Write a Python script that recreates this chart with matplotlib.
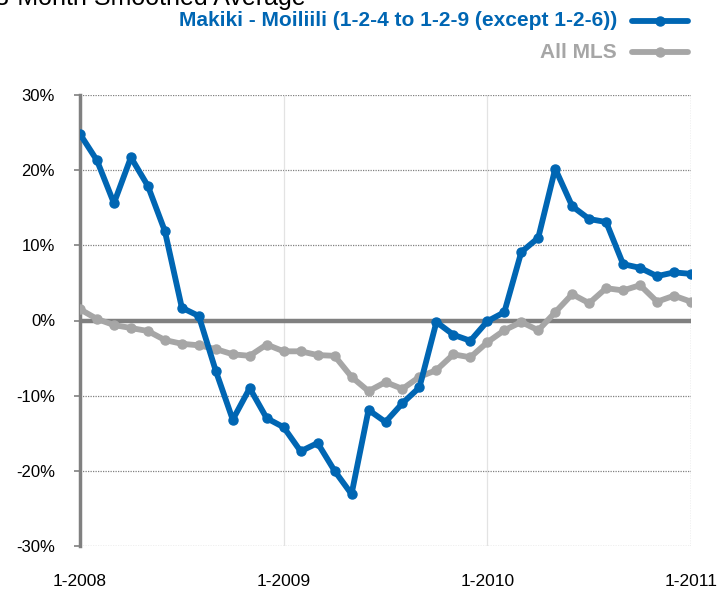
import matplotlib
matplotlib.use("Agg")
import matplotlib.pyplot as plt
from matplotlib.lines import Line2D

plt.rcParams['font.family'] = ['Liberation Sans', 'DejaVu Sans']

months = list(range(37))
makiki = [24.8, 21.3, 15.6, 21.7, 17.9, 11.9, 1.7, 0.6, -6.7, -13.2, -9.0, -13.0,
          -14.2, -17.4, -16.3, -20.0, -23.1, -11.9, -13.5, -11.0, -8.9, -0.2, -1.9, -2.7,
          -0.1, 1.1, 9.1, 11.0, 20.2, 15.2, 13.5, 13.1, 7.5, 7.0, 5.9, 6.4, 6.2]
all_mls = [1.5, 0.2, -0.6, -1.0, -1.4, -2.6, -3.1, -3.3, -3.8, -4.5, -4.7, -3.2,
           -4.1, -4.1, -4.6, -4.7, -7.5, -9.4, -8.2, -9.1, -7.5, -6.6, -4.5, -4.9,
           -2.9, -1.3, -0.2, -1.3, 1.1, 3.5, 2.3, 4.3, 4.0, 4.7, 2.5, 3.3, 2.5]
x_ticks = [0, 12, 24, 36]
x_labels = ['1-2008', '1-2009', '1-2010', '1-2011']
y_ticks = [-30, -20, -10, 0, 10, 20, 30]
y_labels = ['-30%', '-20%', '-10%', '0%', '10%', '20%', '30%']
title = '3-Month Smoothed Average'
series_labels = ['Makiki - Moiliili (1-2-4 to 1-2-9 (except 1-2-6))', 'All MLS']

BLUE = '#0066B3'
GRAY = '#A6A6A6'
W, H = 719, 589

fig = plt.figure(figsize=(W/100, H/100), dpi=100)
ax = fig.add_axes([80/W, 1-546/H, 611/W, 451/H])

# grid lines
for y in y_ticks:
    if y == 0:
        continue
    ax.axhline(y, color='#808080', lw=0.9, ls=(0, (1, 1)), zorder=1)
for xv in x_ticks[1:3]:
    ax.axvline(xv, color='#E3E3E3', lw=0.9, zorder=1)
ax.axvline(x_ticks[-1], color='#909090', lw=0.9, ls=(0, (1, 1)), zorder=1)
ax.axhline(0, color='#808080', lw=3.2, zorder=2)

ax.plot(months, all_mls, color=GRAY, lw=4.2, marker='o', ms=6.5, zorder=3)
ax.plot(months, makiki, color=BLUE, lw=4.2, marker='o', ms=6.5, zorder=4)

ax.set_xlim(0, 36)
ax.set_ylim(-30, 30)
ax.set_xticks(x_ticks)
ax.set_xticklabels(x_labels, fontsize=12.5)
ax.set_yticks(y_ticks)
ax.set_yticklabels(y_labels, fontsize=12)
ax.tick_params(axis='x', length=0, pad=20.5)
ax.tick_params(axis='y', length=4, width=1.2, color='#808080', pad=14, direction='out')

for s in ['top', 'right', 'bottom']:
    ax.spines[s].set_visible(False)
ax.spines['left'].set_color('#808080')
ax.spines['left'].set_linewidth(2.5)

fig.text(-5/W, 1-5/H, title, fontsize=18, ha='left', va='baseline')

# legend (manual)
for lab, col, yc in zip(series_labels, [BLUE, GRAY], [21, 52]):
    yf = 1 - yc/H
    fig.text(617/W, yf, lab, color=col, fontsize=15, fontweight='bold',
             ha='right', va='center')
    fig.add_artist(Line2D([632/W, 688/W], [yf, yf], transform=fig.transFigure,
                          color=col, lw=4.2, solid_capstyle='round'))
    fig.add_artist(Line2D([660/W], [yf], transform=fig.transFigure,
                          color=col, marker='o', ms=6.5, lw=0))

fig.savefig('out.png', dpi=100)
